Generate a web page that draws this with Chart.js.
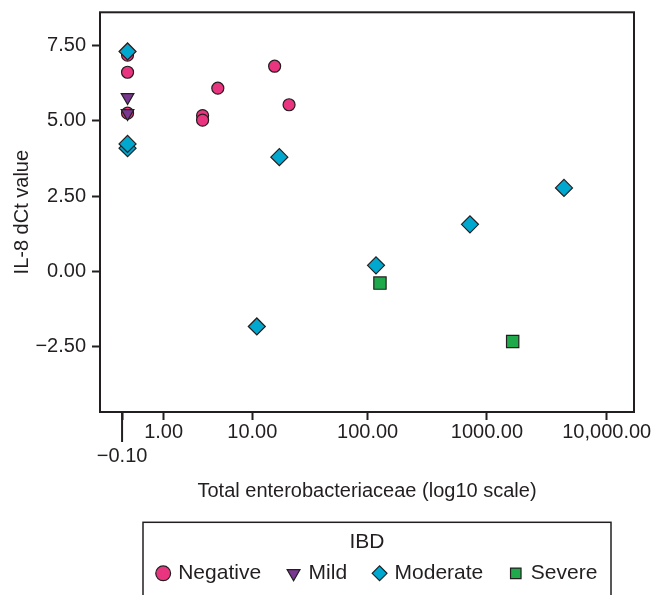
<!DOCTYPE html>
<html>
<head>
<meta charset="utf-8">
<script src="https://cdn.jsdelivr.net/npm/chart.js@4"></script>
<style>
  html, body { margin: 0; padding: 0; background: #fff; }
  canvas { display: block; }
</style>
</head>
<body>
<canvas id="chart" width="657" height="595"></canvas>
<script>
// IBD groups, point colours
const groups = ['Negative', 'Mild', 'Moderate', 'Severe'];
const groupColors = ['#e9357f', '#7a3791', '#00a7cf', '#1eaa4b'];

// total enterobacteriaceae (raw count) vs IL-8 dCt
const negativeX = [0, 0, 0, 3.23, 3.23, 4.67, 15.9, 21.3];
const negativeY = [7.18, 6.61, 5.25, 5.17, 5.02, 6.08, 6.81, 5.53];
const mildX = [0, 0];
const mildY = [5.78, 5.25];
const moderateX = [0, 0, 0, 11.0, 17.5, 117.6, 721, 4400];
const moderateY = [7.30, 4.09, 4.23, -1.83, 3.79, 0.20, 1.56, 2.77];
const severeX = [127, 1640];
const severeY = [-0.39, -2.33];

const xTickValues = [-0.1, 1, 10, 100, 1000, 10000];
const xTickLabels = ['\u22120.10', '1.00', '10.00', '100.00', '1000.00', '10,000.00'];
const yTickValues = [-2.5, 0, 2.5, 5, 7.5];
const yTickLabels = ['\u22122.50', '0.00', '2.50', '5.00', '7.50'];

const ink = '#231f20';
Chart.defaults.font.family = '"Liberation Sans", Arial, Helvetica, sans-serif';
Chart.defaults.color = ink;

// axis is log10(x + 1)
const lg = v => Math.log10(v + 1);
function series(xs, ys) {
  return xs.map((x, i) => ({ x: lg(x), y: ys[i] }));
}

const frame = {
  id: 'frame',
  afterLayout(chart) {
    // legend row sits a bit right of centre in the original
    chart.legend.left += 11;
    chart.legend.right += 11;
  },
  beforeDatasetsDraw(chart) {
    const { ctx, chartArea: a, scales } = chart;
    ctx.save();
    ctx.strokeStyle = ink;
    ctx.lineWidth = 2;
    ctx.strokeRect(a.left, a.top, a.right - a.left, a.bottom - a.top);
    // the long tick under -0.10
    const px = scales.x.getPixelForValue(lg(xTickValues[0]));
    ctx.beginPath();
    ctx.moveTo(px, a.bottom);
    ctx.lineTo(px, a.bottom + 30);
    ctx.stroke();
    ctx.restore();
  },
  afterDraw(chart) {
    const { ctx, chartArea: a, legend } = chart;
    ctx.save();
    ctx.strokeStyle = ink;
    ctx.lineWidth = 1.5;
    ctx.strokeRect(a.left + 43, legend.top - 12.5, a.right - a.left - 66, 100);
    ctx.fillStyle = ink;
    ctx.font = '21px "Liberation Sans", Arial, sans-serif';
    ctx.textAlign = 'center';
    ctx.textBaseline = 'middle';
    ctx.fillText('IBD', (a.left + a.right) / 2, legend.top + 7.2);
    ctx.restore();
  }
};

const common = { borderColor: ink, borderWidth: 1.2, showLine: false };

new Chart(document.getElementById('chart'), {
  type: 'scatter',
  data: {
    datasets: [
      { ...common, label: groups[0], data: series(negativeX, negativeY), pointStyle: 'circle', pointRadius: 6, backgroundColor: groupColors[0], order: 4 },
      { ...common, label: groups[1], data: series(mildX, mildY), pointStyle: 'triangle', pointRotation: 180, pointRadius: 7.3, backgroundColor: groupColors[1], order: 3 },
      { ...common, label: groups[2], data: series(moderateX, moderateY), pointStyle: 'rectRot', pointRadius: 8.5, backgroundColor: groupColors[2], order: 2 },
      { ...common, label: groups[3], data: series(severeX, severeY), pointStyle: 'rect', pointRadius: 8.7, backgroundColor: groupColors[3], order: 1 }
    ]
  },
  options: {
    responsive: false,
    animation: false,
    layout: { padding: { top: 12.3, right: 23, bottom: 1.2, left: 0 } },
    plugins: {
      tooltip: { enabled: false },
      legend: {
        position: 'bottom',
        fullSize: false,
        labels: {
          usePointStyle: true,
          boxWidth: 9,
          boxHeight: 10.5,
          padding: 28,
          font: { size: 21 },
          color: ink,
          sort: (a, b) => a.datasetIndex - b.datasetIndex
        }
      }
    },
    scales: {
      x: {
        type: 'linear',
        min: -0.23,
        max: 4.228,
        afterBuildTicks: s => { s.ticks = xTickValues.map(v => ({ value: lg(v) })); },
        afterFit: s => { s.height = 122.8; s.paddingLeft = 0; s.paddingRight = 0; },
        grid: { drawOnChartArea: false, tickLength: 8, tickWidth: 2, tickColor: ink },
        border: { display: false },
        ticks: {
          autoSkip: false,
          maxRotation: 0,
          minRotation: 0,
          padding: 0,
          font: { size: 20 },
          color: ink,
          callback: (v, i) => (i === 0 ? ['', xTickLabels[0]] : xTickLabels[i])
        },
        title: {
          display: true,
          text: 'Total enterobacteriaceae (log10 scale)',
          font: { size: 20 },
          color: ink,
          padding: { top: 0, bottom: 31.8 }
        }
      },
      y: {
        min: -4.67,
        max: 8.6,
        afterBuildTicks: s => { s.ticks = yTickValues.map(v => ({ value: v })); },
        afterFit: s => { s.width = 100; s.paddingTop = 0; s.paddingBottom = 0; },
        grid: { drawOnChartArea: false, tickLength: 8, tickWidth: 2, tickColor: ink },
        border: { display: false },
        ticks: {
          padding: 6,
          font: { size: 20 },
          color: ink,
          callback: (v, i) => yTickLabels[i]
        },
        title: {
          display: true,
          text: 'IL-8 dCt value',
          font: { size: 20 },
          color: ink,
          padding: { top: 10, bottom: 0 }
        }
      }
    }
  },
  plugins: [frame]
});
</script>
</body>
</html>
